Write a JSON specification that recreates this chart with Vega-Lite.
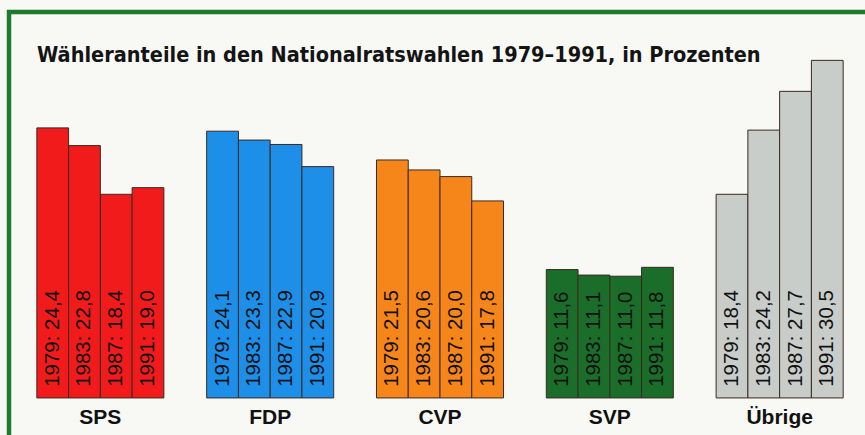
{
  "$schema": "https://vega.github.io/schema/vega-lite/v6.json",
  "width": 862,
  "height": 428,
  "autosize": {"type": "none"},
  "padding": {"left": 9, "top": 12, "right": 0, "bottom": 0},
  "background": "#f8f8f5",
  "view": {"stroke": "#1f7a2e", "strokeWidth": 4.5},
  "title": {
    "text": "Wähleranteile in den Nationalratswahlen 1979–1991, in Prozenten",
    "anchor": "start",
    "font": "DejaVu Sans Condensed, Roboto Condensed, Roboto, sans-serif",
    "fontSize": 21.5,
    "fontWeight": "bold",
    "color": "#141414",
    "baseline": "alphabetic",
    "offset": -71,
    "dx": 28
  },
  "data": {
    "values": [
      {"party": "SPS", "year": "1979", "value": 24.4, "label": "1979: 24,4"},
      {"party": "SPS", "year": "1983", "value": 22.8, "label": "1983: 22,8"},
      {"party": "SPS", "year": "1987", "value": 18.4, "label": "1987: 18,4"},
      {"party": "SPS", "year": "1991", "value": 19.0, "label": "1991: 19,0"},
      {"party": "FDP", "year": "1979", "value": 24.1, "label": "1979: 24,1"},
      {"party": "FDP", "year": "1983", "value": 23.3, "label": "1983: 23,3"},
      {"party": "FDP", "year": "1987", "value": 22.9, "label": "1987: 22,9"},
      {"party": "FDP", "year": "1991", "value": 20.9, "label": "1991: 20,9"},
      {"party": "CVP", "year": "1979", "value": 21.5, "label": "1979: 21,5"},
      {"party": "CVP", "year": "1983", "value": 20.6, "label": "1983: 20,6"},
      {"party": "CVP", "year": "1987", "value": 20.0, "label": "1987: 20,0"},
      {"party": "CVP", "year": "1991", "value": 17.8, "label": "1991: 17,8"},
      {"party": "SVP", "year": "1979", "value": 11.6, "label": "1979: 11,6"},
      {"party": "SVP", "year": "1983", "value": 11.1, "label": "1983: 11,1"},
      {"party": "SVP", "year": "1987", "value": 11.0, "label": "1987: 11,0"},
      {"party": "SVP", "year": "1991", "value": 11.8, "label": "1991: 11,8"},
      {"party": "Übrige", "year": "1979", "value": 18.4, "label": "1979: 18,4"},
      {"party": "Übrige", "year": "1983", "value": 24.2, "label": "1983: 24,2"},
      {"party": "Übrige", "year": "1987", "value": 27.7, "label": "1987: 27,7"},
      {"party": "Übrige", "year": "1991", "value": 30.5, "label": "1991: 30,5"}
    ]
  },
  "encoding": {
    "x": {
      "field": "party",
      "type": "nominal",
      "sort": ["SPS", "FDP", "CVP", "SVP", "Übrige"],
      "scale": {"paddingInner": 0.252, "paddingOuter": 0.164},
      "axis": null
    }
  },
  "layer": [
    {
      "mark": {"type": "bar", "stroke": "#3a2a20", "strokeWidth": 1},
      "encoding": {
        "xOffset": {"field": "year", "type": "nominal", "scale": {"paddingInner": 0, "paddingOuter": 0}},
        "y": {"field": "value", "type": "quantitative", "scale": {"domain": [-3.8, 34.87], "nice": false, "zero": false}, "axis": null},
        "y2": {"datum": 0},
        "color": {
          "field": "party",
          "type": "nominal",
          "scale": {
            "domain": ["SPS", "FDP", "CVP", "SVP", "Übrige"],
            "range": ["#f21b1b", "#1d8fe8", "#f7861a", "#1b6d2a", "#c9cdca"]
          },
          "legend": null
        }
      }
    },
    {
      "mark": {"type": "text", "angle": 270, "align": "left", "baseline": "middle", "font": "Liberation Sans", "fontSize": 20.5, "color": "#111111"},
      "encoding": {
        "xOffset": {"field": "year", "type": "nominal", "scale": {"paddingInner": 0, "paddingOuter": 0}},
        "y": {"datum": 1.0},
        "text": {"field": "label"}
      }
    },
    {
      "transform": [{"filter": "datum.year == '1979'"}],
      "mark": {"type": "text", "align": "center", "baseline": "alphabetic", "font": "Liberation Sans", "fontSize": 21, "fontWeight": "bold", "color": "#111111"},
      "encoding": {
        "y": {"datum": -2.35},
        "text": {"field": "party"}
      }
    }
  ]
}
